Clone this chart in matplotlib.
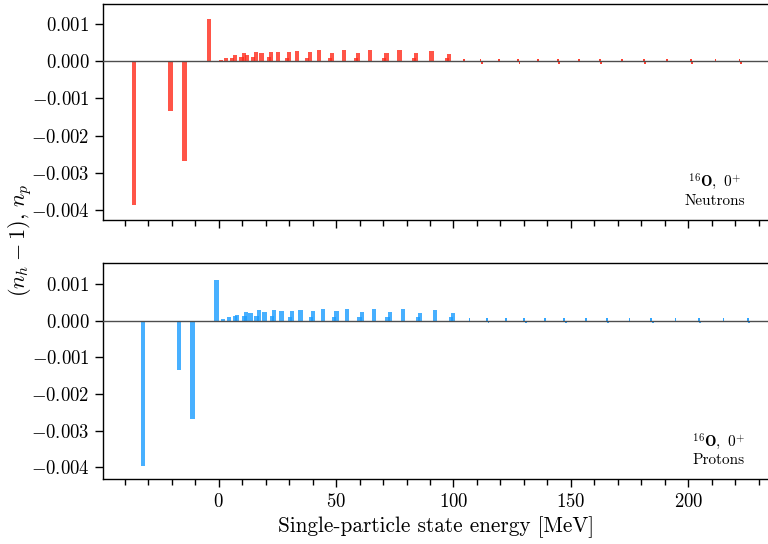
import numpy as np
import matplotlib
matplotlib.use("Agg")
import matplotlib.pyplot as plt
from matplotlib.ticker import MultipleLocator, FuncFormatter

plt.rcParams['font.family'] = 'serif'
plt.rcParams['font.serif'] = ['cmr10']
plt.rcParams['mathtext.fontset'] = 'cm'
plt.rcParams['axes.formatter.use_mathtext'] = True

# --- datos ---
# neutrones: energia del estado [MeV] y (n_h - 1) o n_p
e_neu = [-36.0, -20.4, -14.5, -3.9,
         1.0, 3.3, 5.7, 7.0, 9.8, 10.8, 12.2, 14.8, 15.8, 18.3,
         21.6, 22.3, 25.4, 29.0, 30.0, 33.5, 37.8, 38.8, 42.9,
         47.5, 48.4, 53.3, 58.5, 59.4, 64.6, 70.5, 71.5, 77.0,
         83.1, 84.2, 90.6, 97.2, 98.2]
v_neu = [-0.00386, -0.00134, -0.00268, 0.00114,
         0.00003, 0.00008, 0.00010, 0.00016, 0.00011, 0.00023, 0.00017, 0.00011, 0.00025, 0.00022,
         0.00011, 0.00025, 0.00025, 0.00010, 0.00025, 0.00028, 0.00010, 0.00024, 0.00030,
         0.00010, 0.00023, 0.00030, 0.00010, 0.00023, 0.00030, 0.00010, 0.00023, 0.00029,
         0.00010, 0.00022, 0.00028, 0.00010, 0.00020]
# estados de alta energia (casi cero)
e_neu_tail = [104.3, 111.5, 112.1, 119.5, 127.5, 128.1, 135.9, 144.4, 145.0,
              153.4, 162.2, 162.8, 171.7, 181.0, 181.6, 191.0, 200.9, 201.5,
              211.5, 221.7, 222.3]
v_neu_tail = [0.00006, 0.00006, -0.00006, 0.00006, 0.00006, -0.00006, 0.00006, 0.00006, -0.00006,
              0.00006, 0.00006, -0.00006, 0.00006, 0.00006, -0.00006, 0.00006, 0.00006, -0.00006,
              0.00006, 0.00006, -0.00006]

# protones
e_pro = [-32.2, -16.9, -11.1, -0.85,
         1.9, 4.4, 7.0, 8.0, 11.1, 11.8, 13.6, 16.2, 17.2, 19.6,
         22.6, 23.6, 26.8, 30.4, 31.4, 34.9, 39.2, 40.2, 44.5,
         49.2, 50.2, 54.8, 60.0, 60.9, 66.2, 71.9, 72.9, 78.6,
         84.8, 85.8, 92.0, 98.9, 99.9]
v_pro = [-0.00397, -0.00135, -0.00268, 0.00111,
         0.00004, 0.00010, 0.00013, 0.00015, 0.00013, 0.00024, 0.00022, 0.00013, 0.00028, 0.00023,
         0.00013, 0.00028, 0.00026, 0.00011, 0.00026, 0.00029, 0.00011, 0.00025, 0.00032,
         0.00011, 0.00025, 0.00032, 0.00011, 0.00024, 0.00032, 0.00011, 0.00024, 0.00031,
         0.00011, 0.00022, 0.00029, 0.00011, 0.00020]
e_pro_tail = [106.8, 114.3, 114.9, 122.3, 130.1, 130.7, 138.8, 147.1, 147.7,
              156.3, 165.2, 165.8, 174.9, 184.2, 184.8, 194.5, 204.3, 204.9,
              214.9, 225.3, 225.9]
v_pro_tail = v_neu_tail

fig = plt.figure(figsize=(7.68, 5.44), dpi=100)
ax1 = fig.add_axes([0.1337, 0.5956, 0.8683, 0.397])
ax2 = fig.add_axes([0.1337, 0.1189, 0.8683, 0.3982], sharex=ax1)

paneles = [
    (ax1, e_neu, v_neu, e_neu_tail, v_neu_tail, '#ff2a1a', 'Neutrons', (-0.00427, 0.00154)),
    (ax2, e_pro, v_pro, e_pro_tail, v_pro_tail, '#1a9cff', 'Protons', (-0.00433, 0.00158)),
]

for ax, e, v, et, vt, color, nombre, ylim in paneles:
    ax.bar(e, v, width=1.8, color=color, alpha=0.8, linewidth=0)
    ax.bar(et, vt, width=0.8, color=color, alpha=0.9, linewidth=0)
    ax.axhline(0, color='0.3', lw=1.0, zorder=3)
    ax.set_xlim(-49.3, 234.5)
    ax.set_ylim(*ylim)
    ax.xaxis.set_major_locator(MultipleLocator(50))
    ax.xaxis.set_minor_locator(MultipleLocator(10))
    ax.yaxis.set_major_locator(MultipleLocator(0.001))
    ax.tick_params(axis='both', which='major', direction='out', length=6, width=1, labelsize=13.5)
    ax.tick_params(axis='x', which='minor', direction='out', length=4, width=1)
    ax.yaxis.set_major_formatter(FuncFormatter(lambda y, p: r'$%.3f$' % y if abs(y) > 1e-9 else r'$0.000$'))
    for s in ax.spines.values():
        s.set_linewidth(1.0)
    ax.text(0.963, 0.055, r'$^{\mathbf{16}}\mathbf{O},\ \mathbf{0}^{+}$' + '\n' + nombre,
            transform=ax.transAxes, ha='right', va='bottom', multialignment='center', fontsize=11)

plt.setp(ax1.get_xticklabels(), visible=False)
ax2.set_xlabel('Single-particle state energy [MeV]', fontsize=15.3)
fig.text(0.026, 0.558, r'$(n_h-1),\, n_p$', rotation=90, ha='center', va='center', fontsize=16)

fig.savefig('out.png', dpi=100)
